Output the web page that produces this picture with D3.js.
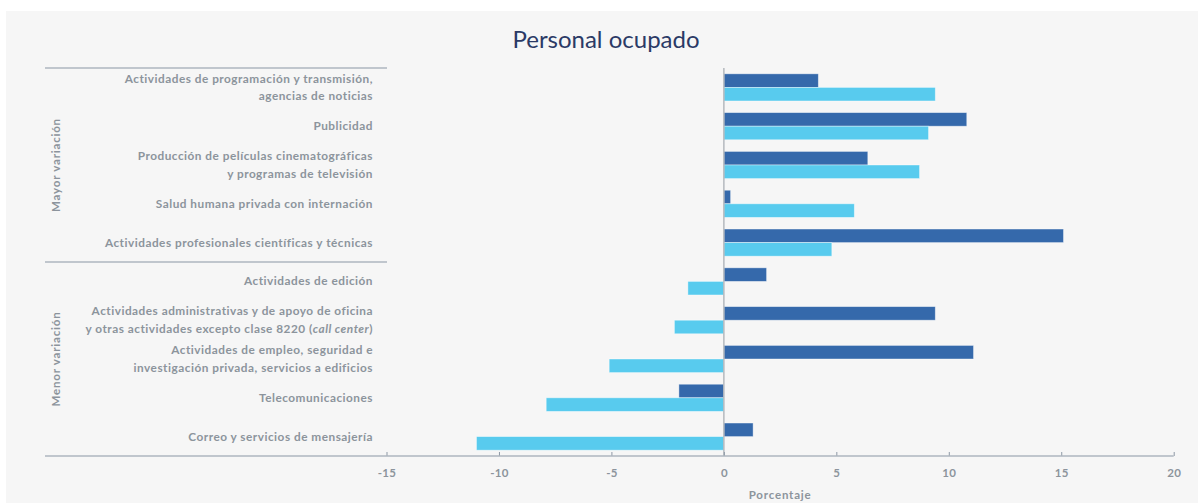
<html>
<head>
<style>
    body { margin: 0; background: #ffffff; }
    text { font-family: Lato, "Open Sans", sans-serif; }
</style>
</head>
<body>
    <svg id="container" width="1198" height="503"></svg>
</body>
<script src="https://cdn.jsdelivr.net/npm/d3@7"></script>
<script>
    // categories top to bottom, "|" splits lines, *...* is italic
    let categories = [
        "Actividades de programación y transmisión,|agencias de noticias",
        "Publicidad",
        "Producción de películas cinematográficas|y programas de televisión",
        "Salud humana privada con internación",
        "Actividades profesionales científicas y técnicas",
        "Actividades de edición",
        "Actividades administrativas y de apoyo de oficina|y otras actividades excepto clase 8220 (*call center*)",
        "Actividades de empleo, seguridad e|investigación privada, servicios a edificios",
        "Telecomunicaciones",
        "Correo y servicios de mensajería"
    ]
    let serieOscura = [4.2, 10.8, 6.4, 0.3, 15.1, 1.9, 9.4, 11.1, -2.0, 1.3]
    let serieClara = [9.4, 9.1, 8.7, 5.8, 4.8, -1.6, -2.2, -5.1, -7.9, -11.0]
    let groups = [["Mayor variación", 5], ["Menor variación", 5]]
    let ticks = [-15, -10, -5, 0, 5, 10, 15, 20]

    let container = d3.select("#container")
    let gray = "#8c949c"
    let lineColor = "#aeb6bf"

    container.append("rect")
        .attr("x", 6).attr("y", 11)
        .attr("width", 1192).attr("height", 492)
        .attr("fill", "#f6f6f6")

    let x = d3.scaleLinear()
        .domain([-15, 20])
        .range([386.5, 1173.7])

    let y = d3.scaleBand()
        .domain(categories)
        .range([68, 456])
        .paddingInner(0.3)
        .paddingOuter(0.15)

    let sub = d3.scaleBand()
        .domain(["oscura", "clara"])
        .range([0, y.bandwidth()])

    let rows = categories.map((c, i) => ({ cat: c, oscura: serieOscura[i], clara: serieClara[i] }))

    // title
    container.append("text")
        .attr("x", 606).attr("y", 48)
        .attr("text-anchor", "middle")
        .attr("font-size", 24)
        .attr("fill", "#2b3a66")
        .text("Personal ocupado")

    // bars
    let series = [["oscura", "#3569ab"], ["clara", "#58cbee"]]
    series.forEach(([key, color]) => {
        container.append("g")
            .selectAll("rect")
            .data(rows)
            .join("rect")
            .attr("x", d => x(Math.min(0, d[key])))
            .attr("y", d => y(d.cat) + sub(key))
            .attr("width", d => Math.abs(x(d[key]) - x(0)))
            .attr("height", sub.bandwidth())
            .attr("fill", color)
            .attr("stroke", "#ffffff")
            .attr("stroke-opacity", 0.5)
            .attr("stroke-width", 0.8)
    })

    // zero line
    container.append("line")
        .attr("x1", x(0)).attr("x2", x(0))
        .attr("y1", 68).attr("y2", 456)
        .attr("stroke", "#b4b9be")
        .attr("stroke-width", 1.5)

    // x axis
    let axis = container.append("g")
        .attr("transform", "translate(0,456)")
        .call(d3.axisBottom(x).tickValues(ticks).tickFormat(d => String(d))
            .tickSizeInner(-4).tickSizeOuter(0).tickPadding(13))
    axis.select(".domain").remove()
    axis.selectAll("line").attr("stroke", "#8e99a6")
    axis.selectAll("text")
        .attr("fill", gray)
        .attr("font-size", 11.5)
        .attr("font-weight", "bold")
        .attr("letter-spacing", 0.3)
        .attr("font-family", "Lato, sans-serif")

    container.append("line")
        .attr("x1", 45).attr("x2", x(20))
        .attr("y1", 456).attr("y2", 456)
        .attr("stroke", lineColor)
        .attr("stroke-width", 1.5)

    container.append("text")
        .attr("x", (x(-15) + x(20)) / 2).attr("y", 499)
        .attr("text-anchor", "middle")
        .attr("font-size", 11.5)
        .attr("font-weight", "bold")
        .attr("letter-spacing", 0.8)
        .attr("fill", gray)
        .text("Porcentaje")

    // category labels
    let labels = container.append("g")
        .selectAll("text")
        .data(categories)
        .join("text")
        .attr("text-anchor", "end")
        .attr("font-size", 11.8)
        .attr("font-weight", "bold")
        .attr("letter-spacing", 0.5)
        .attr("fill", gray)

    labels.each(function (c) {
        let lines = c.split("|")
        let mid = y(c) + y.bandwidth() / 2
        let t = d3.select(this)
        lines.forEach((ln, i) => {
            let yy = mid + (i - (lines.length - 1) / 2) * 17.5 + 4
            let parts = ln.split("*")
            parts.forEach((p, j) => {
                let s = t.append("tspan").text(p)
                if (j == 0) s.attr("x", 373).attr("y", yy)
                if (j % 2 == 1) s.attr("font-style", "italic")
            })
        })
    })

    // group lines and labels
    let start = 0
    let step = y.step()
    container.append("line")
        .attr("x1", 45).attr("x2", 387)
        .attr("y1", 68).attr("y2", 68)
        .attr("stroke", lineColor).attr("stroke-width", 1.5)
    groups.forEach(([name, n], gi) => {
        let top = 68 + start * step
        let bottom = 68 + (start + n) * step
        if (gi < groups.length - 1) {
            container.append("line")
                .attr("x1", 45).attr("x2", 387)
                .attr("y1", bottom).attr("y2", bottom)
                .attr("stroke", lineColor).attr("stroke-width", 1.5)
        }
        container.append("text")
            .attr("transform", "translate(60," + ((top + bottom) / 2) + ") rotate(-90)")
            .attr("text-anchor", "middle")
            .attr("font-size", 11.5)
            .attr("font-weight", "bold")
            .attr("letter-spacing", 0.8)
            .attr("fill", gray)
            .text(name)
        start += n
    })
</script>
</html>
